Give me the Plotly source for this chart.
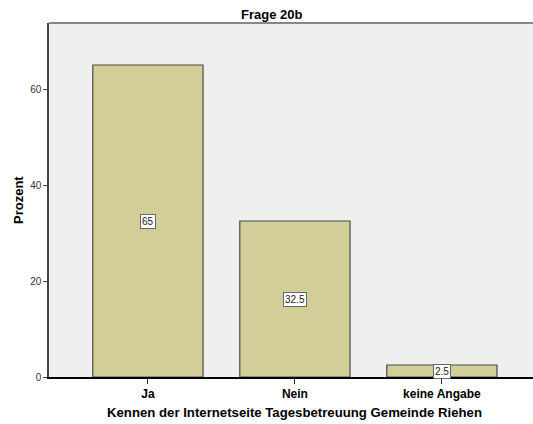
import plotly.graph_objects as go

categories = ["Ja", "Nein", "keine Angabe"]
prozent = [65, 32.5, 2.5]
y_ticks = [0, 20, 40, 60]

fig = go.Figure()
fig.add_trace(go.Bar(
    x=categories, y=prozent, width=0.75,
    marker=dict(color="#D3CE98", line=dict(color="#4A4A4A", width=1.2)),
    hoverinfo="skip",
))

# value labels in small white boxes at bar mid-height
for c, v in zip(categories, prozent):
    fig.add_annotation(
        x=c, y=v / 2, text=f"{v:g}", showarrow=False,
        font=dict(family="Liberation Sans, Arial", size=10, color="#222222"),
        bgcolor="white", bordercolor="#666666", borderwidth=1, borderpad=1,
    )

# axis titles as annotations so the margins stay put
fig.add_annotation(
    xref="paper", yref="paper", x=0.508, y=0, yshift=-35, yanchor="middle",
    text="<b>Kennen der Internetseite Tagesbetreuung Gemeinde Riehen</b>",
    showarrow=False, font=dict(size=13.2),
)
fig.add_annotation(
    xref="paper", yref="paper", x=0, y=0.5, xshift=-31, xanchor="center",
    text="<b>Prozent</b>", textangle=-90, showarrow=False, font=dict(size=13),
)

# top frame line
fig.add_shape(type="line", xref="paper", yref="paper", x0=0, x1=1, y0=1, y1=1,
              line=dict(color="#888888", width=2))

fig.update_layout(
    width=533, height=424,
    margin=dict(l=49, r=0, t=23, b=47, autoexpand=False),
    paper_bgcolor="white", plot_bgcolor="#EFEFEF",
    showlegend=False,
    font=dict(family="Liberation Sans, Arial", color="#000000"),
    title=dict(text="<b>Frage 20b</b>", x=0.51, xanchor="center",
               y=0.967, yanchor="middle", font=dict(size=13)),
)
fig.update_xaxes(
    range=[-0.673, 2.62], showgrid=False, showline=True, linecolor="#000000", linewidth=1.5,
    ticks="outside", ticklen=5, tickcolor="#333333", automargin=False,
    tickfont=dict(size=12), tickvals=categories,
    ticktext=[f"<b>{c}</b>" for c in categories],
)
fig.update_yaxes(
    range=[0, 73.75], tickvals=y_ticks, showgrid=False, zeroline=False,
    showline=True, linecolor="#444444", linewidth=1.5, automargin=False,
    ticks="outside", ticklen=4, tickcolor="#444444",
    tickfont=dict(size=10, color="#333333"),
)

# drop the browser's default body margin so the figure fills the window
fig.write_html("out.html", config={"displayModeBar": False},
               post_script="document.body.style.margin='0';")
